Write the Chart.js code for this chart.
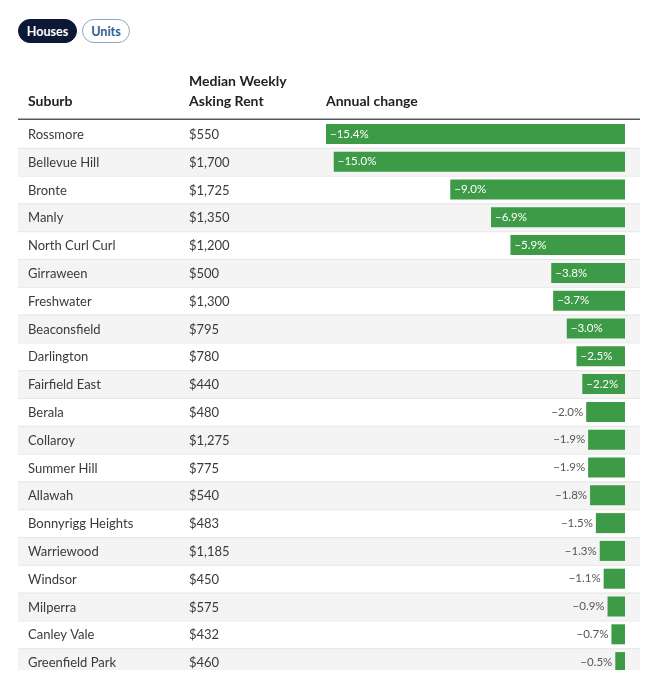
<!DOCTYPE html>
<html>
<head>
<meta charset="utf-8">
<script src="https://cdn.jsdelivr.net/npm/chart.js"></script>
<style>
  body { margin: 0; background: #fff; font-family: Lato, sans-serif; }
  #wrap { position: relative; width: 657px; height: 692px; }
  #clip { position: absolute; left: 0; top: 0; width: 657px; height: 670px; overflow: hidden; }
  #chart { position: absolute; left: 0; top: 0; }
  .pill { position: absolute; top: 19px; height: 24px; box-sizing: border-box; display: flex;
          align-items: center; justify-content: center;
          border-radius: 12px; font: bold 12.5px Lato, sans-serif; }
  #houses { left: 18px; width: 59px; background: #0c1836; color: #fff; border: 1px solid #0c1836; }
  #units { left: 82px; width: 48px; background: #fff; color: #2b5d96; border: 1px solid #8aa6c6; }
</style>
</head>
<body>
<div id="wrap">
  <div id="clip"><canvas id="chart" width="657" height="692"></canvas></div>
  <div class="pill" id="houses">Houses</div>
  <div class="pill" id="units">Units</div>
</div>
<script>
// table data
const suburbs = ['Rossmore', 'Bellevue Hill', 'Bronte', 'Manly', 'North Curl Curl', 'Girraween',
  'Freshwater', 'Beaconsfield', 'Darlington', 'Fairfield East', 'Berala', 'Collaroy', 'Summer Hill',
  'Allawah', 'Bonnyrigg Heights', 'Warriewood', 'Windsor', 'Milperra', 'Canley Vale', 'Greenfield Park'];
const rents = ['$550', '$1,700', '$1,725', '$1,350', '$1,200', '$500', '$1,300', '$795', '$780', '$440',
  '$480', '$1,275', '$775', '$540', '$483', '$1,185', '$450', '$575', '$432', '$460'];
const changes = [-15.4, -15.0, -9.0, -6.9, -5.9, -3.8, -3.7, -3.0, -2.5, -2.2,
  -2.0, -1.9, -1.9, -1.8, -1.5, -1.3, -1.1, -0.9, -0.7, -0.5];
const headers = { suburb: 'Suburb', rent: ['Median Weekly', 'Asking Rent'], change: 'Annual change' };

const fmt = v => '\u2212' + Math.abs(v).toFixed(1) + '%';

const tablePlugin = {
  id: 'table',
  beforeDatasetsDraw(chart) {
    const ctx = chart.ctx, y = chart.scales.y, area = chart.chartArea;
    const rowH = (area.bottom - area.top) / suburbs.length;
    ctx.save();
    suburbs.forEach((s, i) => {
      const cy = y.getPixelForValue(i);
      if (i % 2 === 1) {
        ctx.fillStyle = '#f4f4f4';
        ctx.fillRect(18, cy - rowH / 2, 622, rowH);
      }
      if (i > 0) {
        ctx.fillStyle = '#e6e6e6';
        ctx.fillRect(18, cy - rowH / 2, 622, 1);
      }
    });
    // header
    ctx.fillStyle = '#222';
    ctx.font = 'bold 14px Lato, sans-serif';
    ctx.textBaseline = 'middle';
    ctx.textAlign = 'left';
    ctx.fillText(headers.suburb, 28, 101);
    ctx.fillText(headers.rent[0], 189, 81);
    ctx.fillText(headers.rent[1], 189, 101);
    ctx.fillText(headers.change, 326, 101);
    ctx.fillStyle = '#5a5a5a';
    ctx.fillRect(18, area.top - 1.5, 622, 1.5);
    ctx.restore();
  },
  afterDatasetsDraw(chart) {
    const ctx = chart.ctx, y = chart.scales.y;
    const bars = chart.getDatasetMeta(0).data;
    ctx.save();
    ctx.textBaseline = 'middle';
    suburbs.forEach((s, i) => {
      const cy = y.getPixelForValue(i);
      ctx.font = '13px Lato, sans-serif';
      ctx.fillStyle = '#3a3a3a';
      ctx.textAlign = 'left';
      ctx.fillText(s, 28, cy + 1);
      ctx.fillText(rents[i], 189, cy + 1);

      // value label: inside the bar when it is wide enough, else to its left
      const bar = bars[i];
      const left = Math.min(bar.x, bar.base);
      const w = Math.abs(bar.base - bar.x);
      const label = fmt(changes[i]);
      ctx.font = '11.5px Lato, sans-serif';
      if (w >= 41) {
        ctx.fillStyle = '#fff';
        ctx.textAlign = 'left';
        ctx.fillText(label, left + 4, cy);
      } else {
        ctx.fillStyle = '#555';
        ctx.textAlign = 'right';
        ctx.fillText(label, left - 3, cy);
      }
    });
    ctx.restore();
  }
};

new Chart(document.getElementById('chart'), {
  type: 'bar',
  data: {
    labels: suburbs,
    datasets: [{
      data: changes,
      backgroundColor: '#3d9b47',
      barPercentage: 0.72,
      categoryPercentage: 1
    }]
  },
  options: {
    indexAxis: 'y',
    responsive: false,
    animation: false,
    layout: { padding: { left: 326, right: 32, top: 120, bottom: 16 } },
    plugins: { legend: { display: false }, tooltip: { enabled: false } },
    scales: {
      x: { display: false, min: -15.4, max: 0 },
      y: { display: false }
    }
  },
  plugins: [tablePlugin]
});
</script>
</body>
</html>
